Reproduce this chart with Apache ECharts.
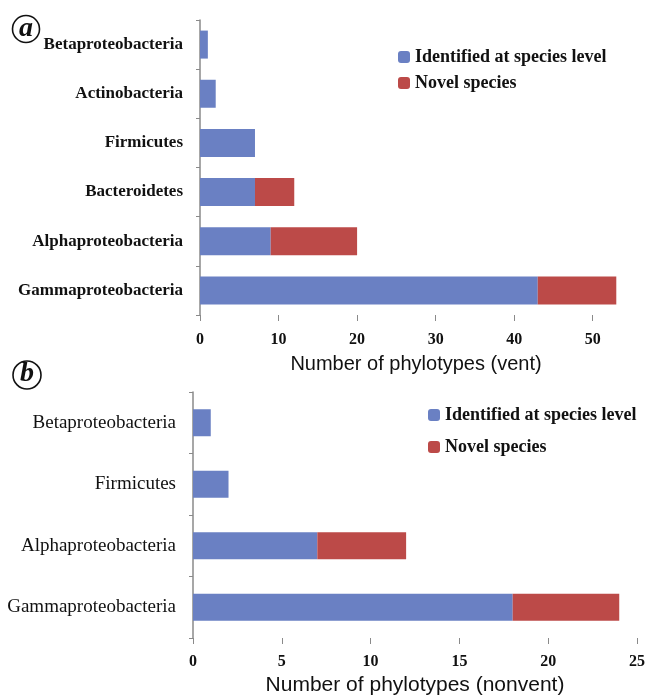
<!DOCTYPE html>
<html>
<head>
<meta charset="utf-8">
<script src="https://cdn.jsdelivr.net/npm/echarts@6/dist/echarts.min.js"></script>
<style>html,body{margin:0;padding:0;background:#fff}#main{width:648px;height:699px}</style>
</head>
<body>
<div id="main"></div>
<script>
var ventCats = ['Gammaproteobacteria', 'Alphaproteobacteria', 'Bacteroidetes', 'Firmicutes', 'Actinobacteria', 'Betaproteobacteria'];
var ventIdentified = [43, 9, 7, 7, 2, 1];
var ventNovel = [10, 11, 5, 0, 0, 0];
var ventTicks = [0, 10, 20, 30, 40, 50];

var nonventCats = ['Gammaproteobacteria', 'Alphaproteobacteria', 'Firmicutes', 'Betaproteobacteria'];
var nonventIdentified = [18, 7, 2, 1];
var nonventNovel = [6, 5, 0, 0];

var blue = '#6a80c3';
var red = '#bc4a48';
var serif = '"Liberation Serif", "DejaVu Serif", serif';
var sans = '"Liberation Sans", Arial, sans-serif';

var myChart = echarts.init(document.getElementById('main'));

var axisLine = { lineStyle: { color: '#8a8a8a', width: 1.5 } };
var legendText = { fontFamily: serif, fontWeight: 'bold', fontSize: 18, lineHeight: 18, color: '#111' };

var option = {
  animation: false,
  backgroundColor: '#fff',
  grid: [
    { left: 200, top: 20, width: 432, height: 295, outerBoundsMode: 'none' },
    { left: 193, top: 392, width: 444, height: 246, outerBoundsMode: 'none' }
  ],
  legend: [
    {
      orient: 'vertical', left: 398, top: 48, itemGap: 8, padding: 0,
      itemWidth: 12, itemHeight: 12,
      data: ['Identified at species level', 'Novel species'],
      textStyle: legendText
    },
    {
      orient: 'vertical', left: 428, top: 406, itemGap: 14, padding: 0,
      itemWidth: 12, itemHeight: 12,
      data: ['Identified at species level', 'Novel species'],
      textStyle: legendText
    }
  ],
  xAxis: [
    {
      gridIndex: 0, type: 'value', min: 0, max: 55,
      splitLine: { show: false },
      axisLine: axisLine,
      axisTick: { show: true, length: 6, customValues: ventTicks, lineStyle: { color: '#8a8a8a' } },
      axisLabel: { customValues: ventTicks, fontFamily: serif, fontWeight: 'bold', fontSize: 16, color: '#111', margin: 17 },
      name: 'Number of phylotypes (vent)', nameLocation: 'middle', nameGap: 39,
      nameTextStyle: { fontFamily: sans, fontSize: 20, color: '#111' }
    },
    {
      gridIndex: 1, type: 'value', min: 0, max: 25, interval: 5,
      splitLine: { show: false },
      axisLine: axisLine,
      axisTick: { show: true, length: 6, lineStyle: { color: '#8a8a8a' } },
      axisLabel: { fontFamily: serif, fontWeight: 'bold', fontSize: 16, color: '#111', margin: 16 },
      name: 'Number of phylotypes (nonvent)', nameLocation: 'middle', nameGap: 37,
      nameTextStyle: { fontFamily: sans, fontSize: 21, color: '#111' }
    }
  ],
  yAxis: [
    {
      gridIndex: 0, type: 'category', data: ventCats,
      axisLine: axisLine,
      axisTick: { show: true, length: 4, lineStyle: { color: '#8a8a8a' } },
      axisLabel: { fontFamily: serif, fontWeight: 'bold', fontSize: 17, color: '#111', margin: 17 }
    },
    {
      gridIndex: 1, type: 'category', data: nonventCats,
      axisLine: axisLine,
      axisTick: { show: true, length: 4, lineStyle: { color: '#8a8a8a' } },
      axisLabel: { fontFamily: serif, fontSize: 19, color: '#111', margin: 17 }
    }
  ],
  series: [
    {
      name: 'Identified at species level', type: 'bar', stack: 'a',
      xAxisIndex: 0, yAxisIndex: 0, barWidth: 28,
      itemStyle: { color: blue }, data: ventIdentified
    },
    {
      name: 'Novel species', type: 'bar', stack: 'a',
      xAxisIndex: 0, yAxisIndex: 0, barWidth: 28,
      itemStyle: { color: red }, data: ventNovel
    },
    {
      name: 'Identified at species level', type: 'bar', stack: 'b',
      xAxisIndex: 1, yAxisIndex: 1, barWidth: 27,
      itemStyle: { color: blue }, data: nonventIdentified
    },
    {
      name: 'Novel species', type: 'bar', stack: 'b',
      xAxisIndex: 1, yAxisIndex: 1, barWidth: 27,
      itemStyle: { color: red }, data: nonventNovel
    }
  ],
  graphic: [
    { type: 'circle', shape: { cx: 26, cy: 29, r: 13.5 }, style: { fill: 'none', stroke: '#111', lineWidth: 1.6 } },
    { type: 'text', x: 26, y: 29, style: { text: 'a', font: 'italic bold 28px ' + serif, fill: '#111', align: 'center', verticalAlign: 'middle' } },
    { type: 'circle', shape: { cx: 27, cy: 375, r: 14 }, style: { fill: 'none', stroke: '#111', lineWidth: 1.6 } },
    { type: 'text', x: 27, y: 374, style: { text: 'b', font: 'italic bold 28px ' + serif, fill: '#111', align: 'center', verticalAlign: 'middle' } }
  ]
};

myChart.setOption(option);
</script>
</body>
</html>
